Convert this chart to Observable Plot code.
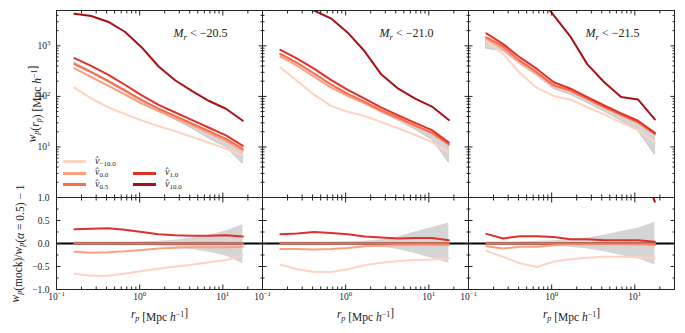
<!DOCTYPE html>
<html><head><meta charset="utf-8">
<script src="https://cdn.jsdelivr.net/npm/d3@7"></script>
<script src="https://cdn.jsdelivr.net/npm/@observablehq/plot@0.6"></script>
<style>
html,body{margin:0;padding:0;background:#fff;}
#chart{position:relative;width:685px;height:333px;overflow:hidden;font-family:"Liberation Serif","DejaVu Serif",serif;color:#222;}
#chart svg{display:block;overflow:visible;}
.lg{position:absolute;font-size:10px;line-height:10px;white-space:nowrap;}
.sw{position:absolute;height:3px;width:23px;}
.lg sub{font-size:7px;vertical-align:-2px;line-height:0;}
</style></head>
<body><div id="chart"></div>
<script>
// ---------- data ----------
const rp = [0.164, 0.261, 0.416, 0.664, 1.06, 1.69, 2.69, 4.29, 6.84, 10.9, 17.4];
const panels = ["−20.5", "−21.0", "−21.5"];
const seriesNames = ["−10.0", "0.0", "0.5", "1.0", "10.0"];
const seriesColors = ["#fdd4c2", "#fca082", "#fb6b4b", "#e0302a", "#a91016"];

// top row: w_p(r_p)
const wp_205_vm10 = [149, 91, 61, 44.5, 33.6, 25.6, 20.4, 15.7, 12.1, 9.2, 6.7];
const wp_205_v0   = [358, 242, 164, 109, 72, 51, 37, 26.7, 18.9, 13.2, 8.5];
const wp_205_v05  = [437, 303, 203, 131, 84, 57, 40.7, 29, 20.5, 14.4, 9.1];
const wp_205_v1   = [573, 400, 270, 170, 105, 68, 48, 34, 24, 17, 10.5];
const wp_205_v10  = [4300, 3880, 3000, 1900, 930, 390, 206, 127, 81, 57, 33];
const obs_205_lo  = [430, 290, 190, 122, 76, 50, 34, 23, 14.5, 10, 4.6];
const obs_205_hi  = [470, 315, 208, 134, 86, 57, 40, 28.5, 20, 14.5, 9.5];

const wp_210_vm10 = [376, 202, 108, 65, 49.5, 41, 31, 23.4, 17.2, 12.5, 7.75];
const wp_210_v0   = [612, 404, 247, 151, 101, 73, 50, 36.3, 26, 18.6, 10.9];
const wp_210_v05  = [696, 459, 284, 172, 112.5, 78, 53, 37.8, 26.8, 19.2, 11.4];
const wp_210_v1   = [835, 560, 355, 212, 135, 90, 60, 42, 30, 21.5, 12.2];
const wp_210_v10  = [7500, 6500, 5000, 3500, 1820, 780, 270, 142, 90, 63, 34];
const obs_210_lo  = [650, 440, 275, 165, 105, 72, 48, 33, 22, 14, 4.9];
const obs_210_hi  = [700, 470, 290, 175, 113, 79, 54, 38, 27, 19, 11.5];

const wp_215_vm10 = [1229, 691, 290, 147, 102, 86, 61, 44, 30.5, 21.6, 12.4];
const wp_215_v0   = [1375, 866, 473, 280, 160, 129, 88, 61, 42.6, 30.2, 17.6];
const wp_215_v05  = [1463, 973, 509, 301, 167, 130, 89, 61.7, 43, 30.8, 18.3];
const wp_215_v1   = [1770, 1080, 590, 349, 190, 142, 97, 66, 46, 33, 19];
const wp_215_v10  = [40000, 30000, 20000, 10600, 4000, 1500, 430, 190, 97, 87, 35];
const obs_215_lo  = [880, 780, 430, 255, 140, 108, 74, 50, 33, 21, 7];
const obs_215_hi  = [1500, 1000, 520, 305, 170, 132, 90, 62, 44, 31, 18.5];

// bottom row: w_p(mock)/w_p(alpha=0.5) - 1
const rat_205_vm10 = [-0.66, -0.70, -0.70, -0.66, -0.60, -0.55, -0.50, -0.46, -0.41, -0.36, -0.26];
const rat_205_v0   = [-0.18, -0.20, -0.19, -0.17, -0.14, -0.11, -0.09, -0.08, -0.08, -0.08, -0.07];
const rat_205_v05  = [0, 0, 0, 0, 0, 0, 0, 0, 0, 0, 0];
const rat_205_v1   = [0.31, 0.32, 0.33, 0.30, 0.25, 0.20, 0.18, 0.17, 0.17, 0.18, 0.15];
const rat_205_v10  = [8.8, 11.8, 13.8, 13.5, 10.0, 5.8, 4.1, 3.4, 2.9, 3.0, 2.6];
const err_205_lo   = [-0.03, -0.03, -0.03, -0.03, -0.04, -0.06, -0.08, -0.13, -0.19, -0.27, -0.44];
const err_205_hi   = [0.03, 0.03, 0.03, 0.03, 0.04, 0.05, 0.07, 0.12, 0.18, 0.27, 0.41];

const rat_210_vm10 = [-0.46, -0.56, -0.62, -0.62, -0.56, -0.47, -0.42, -0.38, -0.36, -0.35, -0.32];
const rat_210_v0   = [-0.12, -0.12, -0.13, -0.12, -0.10, -0.06, -0.05, -0.04, -0.03, -0.03, -0.04];
const rat_210_v05  = [0, 0, 0, 0, 0, 0, 0, 0, 0, 0, 0];
const rat_210_v1   = [0.20, 0.22, 0.25, 0.23, 0.20, 0.15, 0.13, 0.11, 0.12, 0.12, 0.07];
const rat_210_v10  = [9.8, 13.2, 16.6, 19.3, 15.2, 9.0, 4.1, 2.8, 2.4, 2.3, 2.0];
const err_210_lo   = [-0.03, -0.03, -0.03, -0.03, -0.04, -0.05, -0.08, -0.13, -0.22, -0.32, -0.43];
const err_210_hi   = [0.03, 0.03, 0.03, 0.03, 0.04, 0.05, 0.08, 0.14, 0.25, 0.35, 0.44];

const rat_215_vm10 = [-0.16, -0.29, -0.43, -0.51, -0.39, -0.34, -0.31, -0.29, -0.29, -0.30, -0.32];
const rat_215_v0   = [-0.06, -0.11, -0.07, -0.07, -0.04, -0.01, -0.01, -0.01, -0.01, -0.02, -0.04];
const rat_215_v05  = [0, 0, 0, 0, 0, 0, 0, 0, 0, 0, 0];
const rat_215_v1   = [0.21, 0.11, 0.16, 0.16, 0.14, 0.09, 0.09, 0.07, 0.07, 0.07, 0.04];
const rat_215_v10  = [26, 30, 38, 34, 23, 10.5, 3.8, 2.1, 1.26, 1.82, 0.91];
const err_215_lo   = [-0.03, -0.03, -0.04, -0.05, -0.06, -0.08, -0.12, -0.18, -0.26, -0.33, -0.46];
const err_215_hi   = [0.03, 0.03, 0.04, 0.05, 0.06, 0.08, 0.12, 0.18, 0.26, 0.33, 0.46];

// tick values
const xMajor = [0.1, 1, 10];
const xMinor = [0.2, 0.3, 0.4, 0.5, 0.6, 0.7, 0.8, 0.9, 2, 3, 4, 5, 6, 7, 8, 9, 20];
const yTopMajor = [10, 100, 1000];
const yTopMinor = [2, 3, 4, 5, 6, 7, 8, 9, 20, 30, 40, 50, 60, 70, 80, 90, 200, 300, 400, 500, 600, 700, 800, 900, 2000, 3000, 4000];
const yBotMajor = [-1, -0.5, 0, 0.5, 1];
const yBotMinor = [-0.75, -0.25, 0.25, 0.75];

// ---------- tables ----------
const topSets = {
  "−20.5": [wp_205_vm10, wp_205_v0, wp_205_v05, wp_205_v1, wp_205_v10],
  "−21.0": [wp_210_vm10, wp_210_v0, wp_210_v05, wp_210_v1, wp_210_v10],
  "−21.5": [wp_215_vm10, wp_215_v0, wp_215_v05, wp_215_v1, wp_215_v10]
};
const topBand = {"−20.5": [obs_205_lo, obs_205_hi], "−21.0": [obs_210_lo, obs_210_hi], "−21.5": [obs_215_lo, obs_215_hi]};
const botSets = {
  "−20.5": [rat_205_vm10, rat_205_v0, rat_205_v05, rat_205_v1, rat_205_v10],
  "−21.0": [rat_210_vm10, rat_210_v0, rat_210_v05, rat_210_v1, rat_210_v10],
  "−21.5": [rat_215_vm10, rat_215_v0, rat_215_v05, rat_215_v1, rat_215_v10]
};
const botBand = {"−20.5": [err_205_lo, err_205_hi], "−21.0": [err_210_lo, err_210_hi], "−21.5": [err_215_lo, err_215_hi]};

const toRows = sets => panels.flatMap(p => sets[p].flatMap((arr, s) => arr.map((v, i) => ({panel: p, series: seriesNames[s], rp: rp[i], v}))));
const toBand = band => panels.flatMap(p => rp.map((r, i) => ({panel: p, rp: r, lo: band[p][0][i], hi: band[p][1][i]})));
const topRows = toRows(topSets), botRows = toRows(botSets);
const topBandRows = toBand(topBand), botBandRows = toBand(botBand);

// ---------- plots ----------
const FONT = '"Liberation Serif", "DejaVu Serif", serif';
const INK = "#222";
const common = {
  width: 685, marginLeft: 55, marginRight: 11,
  style: {fontFamily: FONT, fontSize: "9.5px", color: INK, background: "transparent", overflow: "visible"},
  fx: {domain: panels, padding: 0, axis: null},
  x: {type: "log", domain: [0.1, 30]},
  color: {domain: seriesNames, range: seriesColors}
};
const MAJ = -4.5, MIN = -2.5;
const xTickMarks = () => [
  Plot.axisX({anchor: "bottom", ticks: xMajor, tickSize: MAJ, fill: "none", label: null, stroke: INK}),
  Plot.axisX({anchor: "bottom", ticks: xMinor, tickSize: MIN, fill: "none", label: null, stroke: INK}),
  Plot.axisX({anchor: "top", ticks: xMajor, tickSize: MAJ, fill: "none", label: null, stroke: INK}),
  Plot.axisX({anchor: "top", ticks: xMinor, tickSize: MIN, fill: "none", label: null, stroke: INK})
];
const yTickMarks = (maj, min) => ["left", "right"].flatMap(a => [
  Plot.axisY({anchor: a, ticks: maj, tickSize: MAJ, fill: "none", label: null, stroke: INK, facetAnchor: null}),
  Plot.axisY({anchor: a, ticks: min, tickSize: MIN, fill: "none", label: null, stroke: INK, facetAnchor: null})
]);

const topPlot = Plot.plot({
  ...common, height: 197, marginTop: 10, marginBottom: 0,
  y: {type: "log", domain: [1, 5000]},
  marks: [
    Plot.areaY(topBandRows, {fx: "panel", x: "rp", y1: "lo", y2: "hi", fill: "#d5d5d5", stroke: "#b3b3b3", strokeWidth: 0.6}),
    Plot.line(topRows, {fx: "panel", x: "rp", y: "v", z: "series", stroke: "series", strokeWidth: 2, clip: true}),
    ...xTickMarks(),
    ...yTickMarks(yTopMajor, yTopMinor),
    Plot.axisY({anchor: "left", ticks: yTopMajor, tickSize: 0, tickPadding: 6, label: null, fill: INK,
      tickFormat: d => "10^" + Math.round(Math.log10(d))}),
    Plot.frame({stroke: INK, strokeWidth: 1}),
    Plot.text(panels, {fx: d => d, text: d => "Mr < " + d, frameAnchor: "top-right", textAnchor: "middle",
      lineAnchor: "middle", dx: -62, dy: 23, fontSize: 12, fill: INK, ariaLabel: "panel title"}),
    Plot.text([panels[0]], {fx: d => d, text: () => "ylab-top", frameAnchor: "left", rotate: -90, dx: -24,
      textAnchor: "middle", lineAnchor: "middle", fontSize: 11.5, fill: INK, ariaLabel: "ylabel top"})
  ]
});

const botPlot = Plot.plot({
  ...common, height: 136, marginTop: 0, marginBottom: 44,
  y: {domain: [-1, 1]},
  marks: [
    Plot.areaY(botBandRows, {fx: "panel", x: "rp", y1: "lo", y2: "hi", fill: "#d5d5d5"}),
    Plot.ruleY([0], {stroke: "#000", strokeWidth: 2}),
    Plot.line(botRows, {fx: "panel", x: "rp", y: "v", z: "series", stroke: "series", strokeWidth: 2, clip: true}),
    ...xTickMarks(),
    ...yTickMarks(yBotMajor, yBotMinor),
    Plot.axisY({anchor: "left", ticks: yBotMajor, tickSize: 0, tickPadding: 7, label: null, fill: INK,
      tickFormat: d => d.toFixed(1).replace("-", "−")}),
    Plot.axisX({anchor: "bottom", ticks: xMajor, tickSize: 0, tickPadding: 4, label: null, fill: INK,
      tickFormat: d => "10^" + (d === 0.1 ? "−1" : d === 1 ? "0" : "1")}),
    Plot.frame({stroke: INK, strokeWidth: 1}),
    Plot.text(panels, {fx: d => d, text: () => "xlab", frameAnchor: "bottom", dy: 25, textAnchor: "middle",
      lineAnchor: "middle", fontSize: 11.5, fill: INK, ariaLabel: "xlabel"}),
    Plot.text([panels[0]], {fx: d => d, text: () => "ylab-bot", frameAnchor: "left", rotate: -90, dx: -41,
      textAnchor: "middle", lineAnchor: "middle", fontSize: 11.5, fill: INK, ariaLabel: "ylabel bottom"})
  ]
});

// ---------- math-style text ----------
const it = s => `<tspan font-style="italic">${s}</tspan>`;
const sub = s => `<tspan font-style="italic" font-size="8" dy="2.5">${s}</tspan><tspan dy="-2.5"></tspan>`;
const sup = s => `<tspan font-size="8" dy="-4">${s}</tspan><tspan dy="4"></tspan>`;
function fixTexts(svg) {
  svg.querySelectorAll("text").forEach(t => {
    const s = t.textContent;
    let m;
    if ((m = s.match(/^10\^(.+)$/))) t.innerHTML = `10<tspan font-size="6.8" dy="-3.8">${m[1]}</tspan>`;
    else if ((m = s.match(/^Mr < (.+)$/))) t.innerHTML = it("M") + `<tspan font-style="italic" font-size="8.5" dy="2.5">r</tspan><tspan dy="-2.5"> &lt; ${m[1]}</tspan>`;
    else if (s === "xlab") t.innerHTML = it("r") + sub("p") + "<tspan> [Mpc </tspan>" + it("h") + sup("−1") + "<tspan>]</tspan>";
    else if (s === "ylab-top") t.innerHTML = it("w") + sub("p") + "<tspan>(</tspan>" + it("r") + sub("p") + "<tspan>) [Mpc </tspan>" + it("h") + sup("−1") + "<tspan>]</tspan>";
    else if (s === "ylab-bot") t.innerHTML = it("w") + sub("p") + "<tspan>(mock)/</tspan>" + it("w") + sub("p") + "<tspan>(</tspan>" + it("α") + "<tspan> = 0.5) − 1</tspan>";
  });
}
fixTexts(topPlot); fixTexts(botPlot);

const chart = document.getElementById("chart");
chart.append(topPlot, botPlot);

// ---------- legend ----------
const legendSlots = [[0, 0], [0, 1], [0, 2], [1, 1], [1, 2]]; // [column, row] per series
const legCols = [63, 133], legRows = [161.5, 173, 184.5];
seriesNames.forEach((name, i) => {
  const [c, r] = legendSlots[i];
  const sw = document.createElement("div");
  sw.className = "sw";
  sw.style.left = legCols[c] + "px";
  sw.style.top = (legRows[r] - 1.5) + "px";
  sw.style.background = seriesColors[i];
  const lb = document.createElement("div");
  lb.className = "lg";
  lb.style.left = (legCols[c] + 32) + "px";
  lb.style.top = (legRows[r] - 6) + "px";
  lb.innerHTML = `<i>v̂</i><sub>${name}</sub>`;
  chart.append(sw, lb);
});
</script></body></html>
